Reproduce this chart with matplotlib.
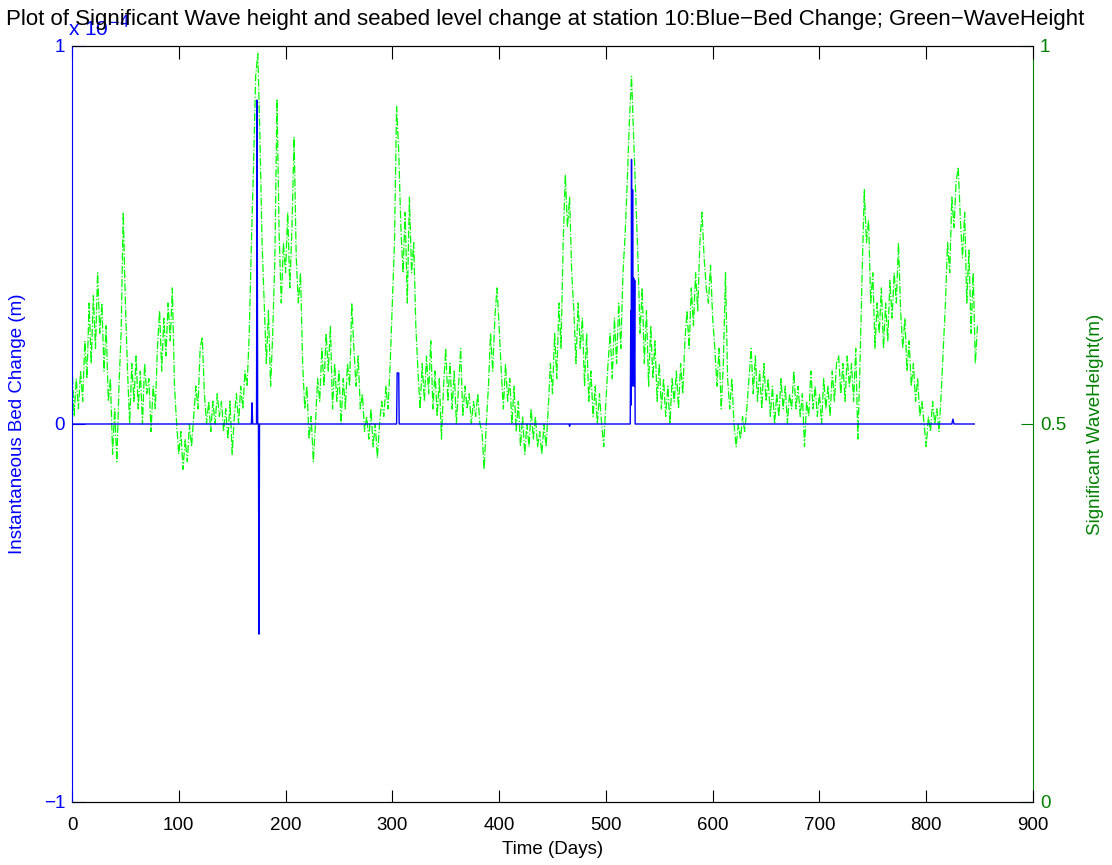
"""
Significant wave height and seabed level change at station 10 (plotyy style)
Blue - bed change (x 1e-4 m, left axis); Green - wave height (m, right axis)
"""

import numpy as np
import matplotlib
matplotlib.use('Agg')
import matplotlib.pyplot as plt

plt.rcParams['font.family'] = ['Liberation Sans', 'DejaVu Sans']

# Significant wave height (m), one reading every 2 days from day 0
wave_height = [
    0.58, 0.51, 0.56, 0.52, 0.57, 0.53, 0.61, 0.56, 0.66, 0.58,   # day 0
    0.67, 0.60, 0.70, 0.62, 0.66, 0.57, 0.63, 0.53, 0.56, 0.46,   # day 20
    0.52, 0.45, 0.55, 0.62, 0.78, 0.66, 0.57, 0.50, 0.58, 0.53,   # day 40
    0.59, 0.52, 0.57, 0.50, 0.58, 0.54, 0.56, 0.49, 0.55, 0.52,   # day 60
    0.60, 0.65, 0.57, 0.64, 0.59, 0.66, 0.61, 0.68, 0.55, 0.50,   # day 80
    0.46, 0.49, 0.44, 0.48, 0.45, 0.50, 0.47, 0.51, 0.55, 0.52,   # day 100
    0.60, 0.615, 0.54, 0.50, 0.53, 0.49, 0.53, 0.50, 0.54, 0.51,  # day 120
    0.53, 0.49, 0.52, 0.48, 0.53, 0.46, 0.51, 0.54, 0.50, 0.55,   # day 140
    0.52, 0.57, 0.55, 0.62, 0.74, 0.84, 0.96, 0.99, 0.88, 0.74,   # day 160
    0.66, 0.58, 0.65, 0.55, 0.62, 0.72, 0.93, 0.75, 0.66, 0.74,   # day 180
    0.70, 0.78, 0.68, 0.76, 0.88, 0.72, 0.66, 0.70, 0.58, 0.52,   # day 200
    0.55, 0.48, 0.51, 0.45, 0.50, 0.56, 0.53, 0.60, 0.55, 0.62,   # day 220
    0.57, 0.63, 0.52, 0.58, 0.53, 0.57, 0.50, 0.56, 0.52, 0.58,   # day 240
    0.55, 0.66, 0.60, 0.55, 0.59, 0.52, 0.54, 0.49, 0.51, 0.48,   # day 260
    0.52, 0.47, 0.50, 0.455, 0.50, 0.53, 0.51, 0.55, 0.52, 0.58,  # day 280
    0.66, 0.74, 0.92, 0.86, 0.76, 0.70, 0.78, 0.66, 0.80, 0.70,   # day 300
    0.74, 0.63, 0.57, 0.52, 0.58, 0.53, 0.59, 0.54, 0.61, 0.52,   # day 320
    0.57, 0.51, 0.56, 0.48, 0.55, 0.60, 0.53, 0.58, 0.52, 0.57,   # day 340
    0.50, 0.55, 0.60, 0.51, 0.55, 0.52, 0.54, 0.50, 0.53, 0.51,   # day 360
    0.54, 0.50, 0.49, 0.44, 0.50, 0.55, 0.62, 0.57, 0.64, 0.68,   # day 380
    0.63, 0.57, 0.52, 0.58, 0.53, 0.56, 0.50, 0.55, 0.49, 0.53,   # day 400
    0.47, 0.51, 0.46, 0.50, 0.47, 0.52, 0.48, 0.51, 0.47, 0.49,   # day 420
    0.46, 0.50, 0.47, 0.52, 0.58, 0.54, 0.62, 0.56, 0.66, 0.60,   # day 440
    0.74, 0.83, 0.76, 0.80, 0.70, 0.65, 0.58, 0.66, 0.60, 0.64,   # day 460
    0.55, 0.62, 0.53, 0.57, 0.51, 0.55, 0.50, 0.54, 0.50, 0.47,   # day 480
    0.53, 0.58, 0.62, 0.56, 0.64, 0.58, 0.66, 0.60, 0.70, 0.75,   # day 500
    0.82, 0.90, 0.96, 0.88, 0.80, 0.72, 0.62, 0.68, 0.58, 0.65,   # day 520
    0.55, 0.63, 0.56, 0.61, 0.53, 0.58, 0.52, 0.56, 0.51, 0.55,   # day 540
    0.50, 0.56, 0.53, 0.57, 0.52, 0.58, 0.54, 0.61, 0.65, 0.60,   # day 560
    0.68, 0.63, 0.70, 0.65, 0.74, 0.78, 0.72, 0.68, 0.66, 0.71,   # day 580
    0.64, 0.60, 0.55, 0.60, 0.52, 0.58, 0.70, 0.56, 0.52, 0.56,   # day 600
    0.50, 0.47, 0.50, 0.48, 0.51, 0.49, 0.52, 0.56, 0.60, 0.54,   # day 620
    0.59, 0.53, 0.57, 0.52, 0.58, 0.53, 0.56, 0.51, 0.55, 0.50,   # day 640
    0.54, 0.51, 0.56, 0.52, 0.55, 0.50, 0.54, 0.52, 0.57, 0.52,   # day 660
    0.55, 0.51, 0.54, 0.47, 0.53, 0.51, 0.57, 0.52, 0.55, 0.51,   # day 680
    0.54, 0.50, 0.56, 0.52, 0.55, 0.51, 0.57, 0.53, 0.58, 0.59,   # day 700
    0.54, 0.58, 0.53, 0.59, 0.55, 0.58, 0.53, 0.60, 0.48, 0.58,   # day 720
    0.70, 0.81, 0.74, 0.77, 0.66, 0.70, 0.60, 0.66, 0.62, 0.68,   # day 740
    0.60, 0.66, 0.61, 0.69, 0.64, 0.70, 0.66, 0.74, 0.65, 0.60,   # day 760
    0.64, 0.57, 0.61, 0.55, 0.58, 0.53, 0.56, 0.51, 0.53, 0.50,   # day 780
    0.47, 0.51, 0.49, 0.53, 0.50, 0.52, 0.49, 0.54, 0.60, 0.66,   # day 800
    0.74, 0.70, 0.80, 0.76, 0.82, 0.84, 0.77, 0.72, 0.78, 0.66,   # day 820
    0.73, 0.62, 0.70, 0.58, 0.63,                                 # day 840
]
wave_days = np.arange(len(wave_height)) * 2

# Instantaneous bed change (units of 1e-4 m), zero apart from a few events
bed_days = [0, 168.0, 168.6, 169.2, 172.8, 173.3, 173.9, 174.6, 175.1, 175.6,
            304.0, 304.5, 306.0, 306.4, 465.5, 466.0, 466.5,
            522.8, 523.3, 523.6, 524.0, 524.5, 525.0, 525.5, 526.0, 526.5, 527.0, 527.4,
            824.0, 825.0, 826.0, 845]
bed_change = [0, 0, 0.056, 0, 0, 0.857, 0, 0, -0.556, 0,
              0, 0.135, 0.135, 0, 0, -0.006, 0,
              0, 0.30, 0.05, 0.70, 0.10, 0.62, 0.20, 0.386, 0.10, 0.38, 0,
              0, 0.013, 0, 0]

blue = '#0000ff'
dkgreen = '#008000'

fig = plt.figure(figsize=(11.12, 8.65), dpi=100)
ax1 = fig.add_axes([72 / 1112, 63 / 865, 961 / 1112, 756 / 865])
ax2 = ax1.twinx()

ax1.plot(bed_days, bed_change, color=blue, linewidth=1.0, zorder=3)
ax2.plot(wave_days, wave_height, color='#00ff00', linestyle='-.', linewidth=0.9)
ax1.set_zorder(ax2.get_zorder() + 1)
ax1.patch.set_visible(False)

ax1.set_xlim(0, 900)
ax1.set_ylim(-1, 1)
ax2.set_ylim(0, 1)
ax1.set_xticks(range(0, 901, 100))
ax1.set_yticks([-1, 0, 1])
ax1.set_yticklabels(['\u22121', '0', '1'])
ax2.set_yticks([0, 0.5, 1])
ax2.set_yticklabels(['0', '0.5', '1'])

ax1.tick_params(axis='x', direction='in', top=True, length=9, labelsize=13.5, pad=11)
ax1.tick_params(axis='y', direction='in', colors=blue, length=9, labelsize=13.5, pad=5)
ax2.tick_params(axis='y', direction='in', colors=dkgreen, length=9, labelsize=13.5, pad=5)

for a in (ax1, ax2):
    a.spines['top'].set_color('black')
    a.spines['bottom'].set_color('black')
ax1.spines['left'].set_color(blue)
ax1.spines['right'].set_visible(False)
ax2.spines['left'].set_visible(False)
ax2.spines['right'].set_color(dkgreen)

ax1.set_xlabel('Time (Days)', fontsize=13.5, labelpad=5)
ax1.set_ylabel('Instantaneous Bed Change (m)', fontsize=13.5, color=blue, labelpad=13)
ax2.set_ylabel('Significant WaveHeight(m)', fontsize=13.5, color=dkgreen, labelpad=15)

# multiplier for the left axis, sitting under the title as in the original
fig.text(68 / 1112, 1 - 28 / 865, 'x 10$^{-4}$', color=blue, fontsize=15,
         ha='left', va='center')
fig.text(0.49, 1 - 20 / 865,
         'Plot of Significant Wave height and seabed level change at station 10:'
         'Blue\u2212Bed Change; Green\u2212WaveHeight',
         fontsize=16, ha='center', va='center')

fig.savefig('out.png', dpi=100)
